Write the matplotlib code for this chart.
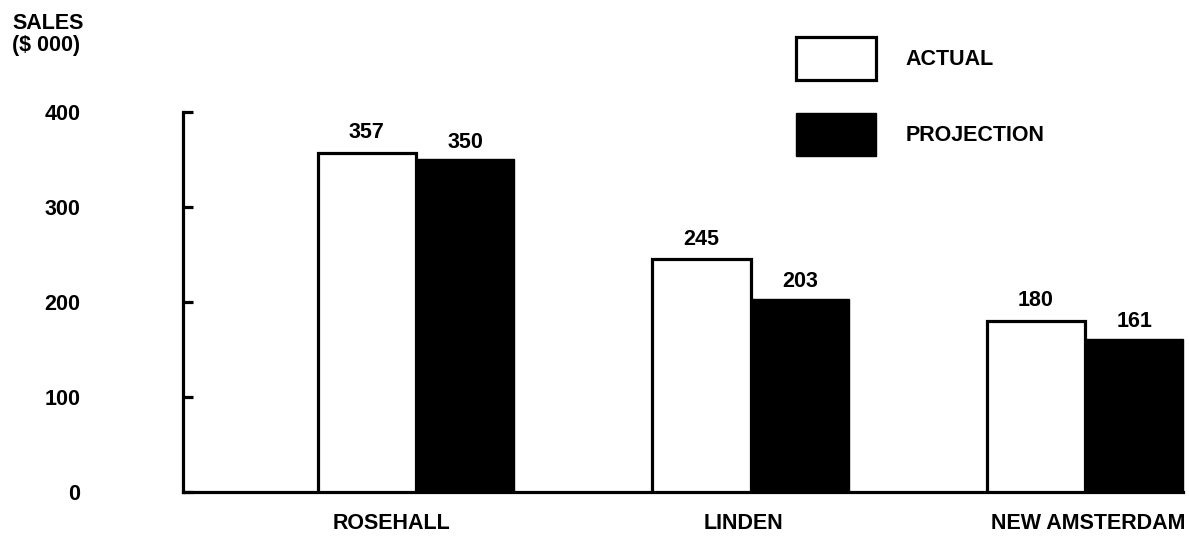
import numpy as np
import matplotlib.pyplot as plt

plt.rcParams['font.family'] = ['Liberation Sans', 'DejaVu Sans']
plt.rcParams['font.weight'] = 'bold'

# sales per branch, in thousands of dollars
branches = ['ROSEHALL', 'LINDEN', 'NEW AMSTERDAM']
actual = [357, 245, 180]
projection = [350, 203, 161]
y_ticks = [0, 100, 200, 300, 400]

fig = plt.figure(figsize=(11.89, 5.36), dpi=100)
ax = fig.add_axes([0.1539, 0.0821, 0.8461, 0.7313])

x = np.arange(len(branches))
w = 0.294
fs = 15.5

b1 = ax.bar(x - w / 2, actual, w, color='white', edgecolor='black',
            linewidth=2.3, label='ACTUAL', zorder=3)
b2 = ax.bar(x + w / 2, projection, w, color='black', edgecolor='black',
            linewidth=1, label='PROJECTION', zorder=3)
ax.bar_label(b1, padding=7, fontsize=fs, fontweight='bold')
ax.bar_label(b2, padding=5, fontsize=fs, fontweight='bold')

ax.set_xlim(-0.697, 2.311)
ax.set_ylim(0, 412.6)

for side in ['top', 'right']:
    ax.spines[side].set_visible(False)
ax.spines['left'].set_linewidth(2.3)
ax.spines['bottom'].set_linewidth(2.3)
ax.spines['left'].set_bounds(0, 400)
ax.spines['bottom'].set_bounds(-0.697, 2 + w)

ax.set_yticks(y_ticks)
ax.set_yticklabels([str(v) for v in y_ticks])
ax.tick_params(axis='y', direction='in', length=7, width=2.3, pad=74,
               labelsize=fs)

# category names sit a little off the group centres
label_shift = [-0.075, -0.02, 0.01]
ax.set_xticks(x + np.array(label_shift))
ax.set_xticklabels(branches)
ax.tick_params(axis='x', length=0, pad=15, labelsize=fs)

fig.text(12 / 1189, 1 - 13 / 536, 'SALES\n($ 000)', ha='left', va='top',
         fontsize=fs, fontweight='bold', linespacing=1.05)

ax.legend(loc='upper left', bbox_to_anchor=(796 / 1189, 1 - 37 / 536),
          bbox_transform=fig.transFigure, frameon=False, fontsize=fs,
          handlelength=3.7, handleheight=2.72, labelspacing=1.5,
          handletextpad=1.4, borderpad=0, borderaxespad=0)

fig.savefig('out.png', dpi=100)
